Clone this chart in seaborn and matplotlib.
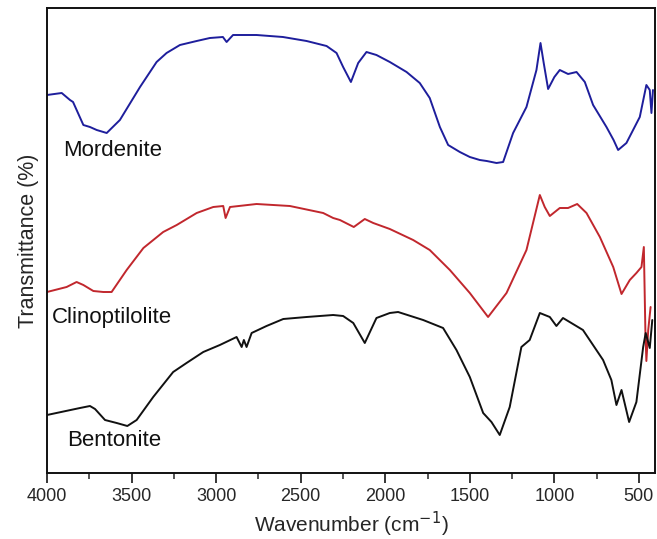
import numpy as np
import pandas as pd
import matplotlib
matplotlib.use("Agg")
import matplotlib.pyplot as plt
from matplotlib.ticker import MultipleLocator
import seaborn as sns

# Wavenumber (cm-1) and transmittance (arbitrary, offset)
mord_wn = [4000, 3913, 3864, 3846, 3785, 3746, 3706, 3647, 3569, 3450, 3352, 3293, 3214, 3115, 3037,
           2960, 2938, 2900, 2761, 2605, 2465, 2347, 2288, 2249, 2203, 2160, 2111, 2052, 1973, 1874,
           1796, 1737, 1677, 1628, 1559, 1500, 1441, 1400, 1342, 1303, 1244, 1165, 1106, 1082, 1063,
           1037, 1000, 968, 919, 869, 820, 771, 692, 650, 623, 574, 495, 456, 436, 426, 417]
mord_t = [378, 380, 373, 371, 348, 346, 343, 340, 353, 386, 411, 420, 428, 432, 435,
          436, 431, 438, 438, 436, 432, 427, 420, 406, 391, 410, 421, 418, 411, 401,
          390, 375, 346, 328, 321, 316, 313, 312, 310, 311, 340, 366, 403, 430, 410,
          384, 396, 403, 399, 401, 391, 368, 346, 333, 323, 330, 356, 388, 383, 360, 383]

clin_wn = [4000, 3884, 3825, 3785, 3726, 3667, 3618, 3529, 3430, 3313, 3233, 3115, 3017, 2958, 2944,
           2918, 2761, 2564, 2367, 2308, 2268, 2186, 2121, 2071, 1973, 1835, 1737, 1618, 1500, 1392,
           1283, 1165, 1086, 1057, 1027, 968, 919, 865, 810, 731, 652, 603, 554, 515, 485, 471,
           462, 456, 445, 431]
clin_t = [181, 186, 191, 188, 182, 181, 181, 203, 225, 241, 248, 260, 266, 267, 255,
          266, 269, 267, 260, 255, 253, 246, 254, 250, 244, 233, 223, 203, 180, 156,
          180, 223, 278, 266, 257, 265, 265, 269, 260, 236, 206, 179, 193, 200, 206, 226,
          143, 112, 143, 166]

bent_wn = [4000, 3805, 3746, 3716, 3657, 3588, 3525, 3470, 3372, 3254, 3175, 3076, 2978, 2879, 2849,
           2836, 2820, 2790, 2702, 2603, 2465, 2308, 2249, 2189, 2121, 2052, 1973, 1924, 1776, 1658,
           1579, 1500, 1421, 1372, 1323, 1264, 1195, 1146, 1086, 1027, 988, 949, 831, 712, 663,
           633, 603, 558, 515, 475, 460, 436, 421]
bent_t = [58, 65, 67, 64, 53, 50, 47, 53, 76, 101, 110, 121, 128, 136, 126,
          133, 126, 140, 147, 154, 156, 158, 157, 150, 130, 155, 160, 161, 153, 145,
          123, 96, 60, 51, 38, 66, 126, 133, 160, 156, 147, 155, 143, 113, 93,
          68, 83, 51, 71, 126, 140, 125, 153]

samples = ["Mordenite", "Clinoptilolite", "Bentonite"]
colors = {"Mordenite": "#1e1e9c", "Clinoptilolite": "#c1272d", "Bentonite": "#111111"}

df = pd.concat([
    pd.DataFrame({"wn": mord_wn, "T": mord_t, "sample": "Mordenite"}),
    pd.DataFrame({"wn": clin_wn, "T": clin_t, "sample": "Clinoptilolite"}),
    pd.DataFrame({"wn": bent_wn, "T": bent_t, "sample": "Bentonite"}),
], ignore_index=True)

sns.set_style("white")
plt.rcParams["font.family"] = ["Liberation Sans", "DejaVu Sans"]
plt.rcParams["lines.solid_joinstyle"] = "round"
plt.rcParams["lines.solid_capstyle"] = "round"

fig = plt.figure(figsize=(6.57, 5.39), dpi=100)
ax = fig.add_axes([47/657, 1-473/539, (655-47)/657, (473-8)/539])

sns.lineplot(data=df, x="wn", y="T", hue="sample", palette=colors, sort=False,
             estimator=None, linewidth=1.4, legend=False, ax=ax)

ax.set_xlim(4000, 405)
ax.set_ylim(0, 465)
ax.xaxis.set_major_locator(MultipleLocator(500))
ax.xaxis.set_minor_locator(MultipleLocator(250))
ax.set_yticks([])
ax.tick_params(axis="x", which="major", direction="out", length=7, width=1.3,
               labelsize=13, bottom=True, pad=4)
ax.tick_params(axis="x", which="minor", direction="out", length=4, width=1.1, bottom=True)
for s in ax.spines.values():
    s.set_visible(True)
    s.set_linewidth(1.4)
    s.set_color("#111111")

ax.set_xlabel("Wavenumber (cm$^{-1}$)", fontsize=15, labelpad=3)
ax.set_ylabel("Transmittance (%)", fontsize=15.5, labelpad=6)

label_pos = {"Mordenite": (3905, 473-150), "Clinoptilolite": (3970, 473-317), "Bentonite": (3882, 473-440)}
for name in samples:
    x, y = label_pos[name]
    ax.text(x, y, name, fontsize=16, va="center", ha="left", color="#111111")

fig.savefig("out.png", dpi=100)
